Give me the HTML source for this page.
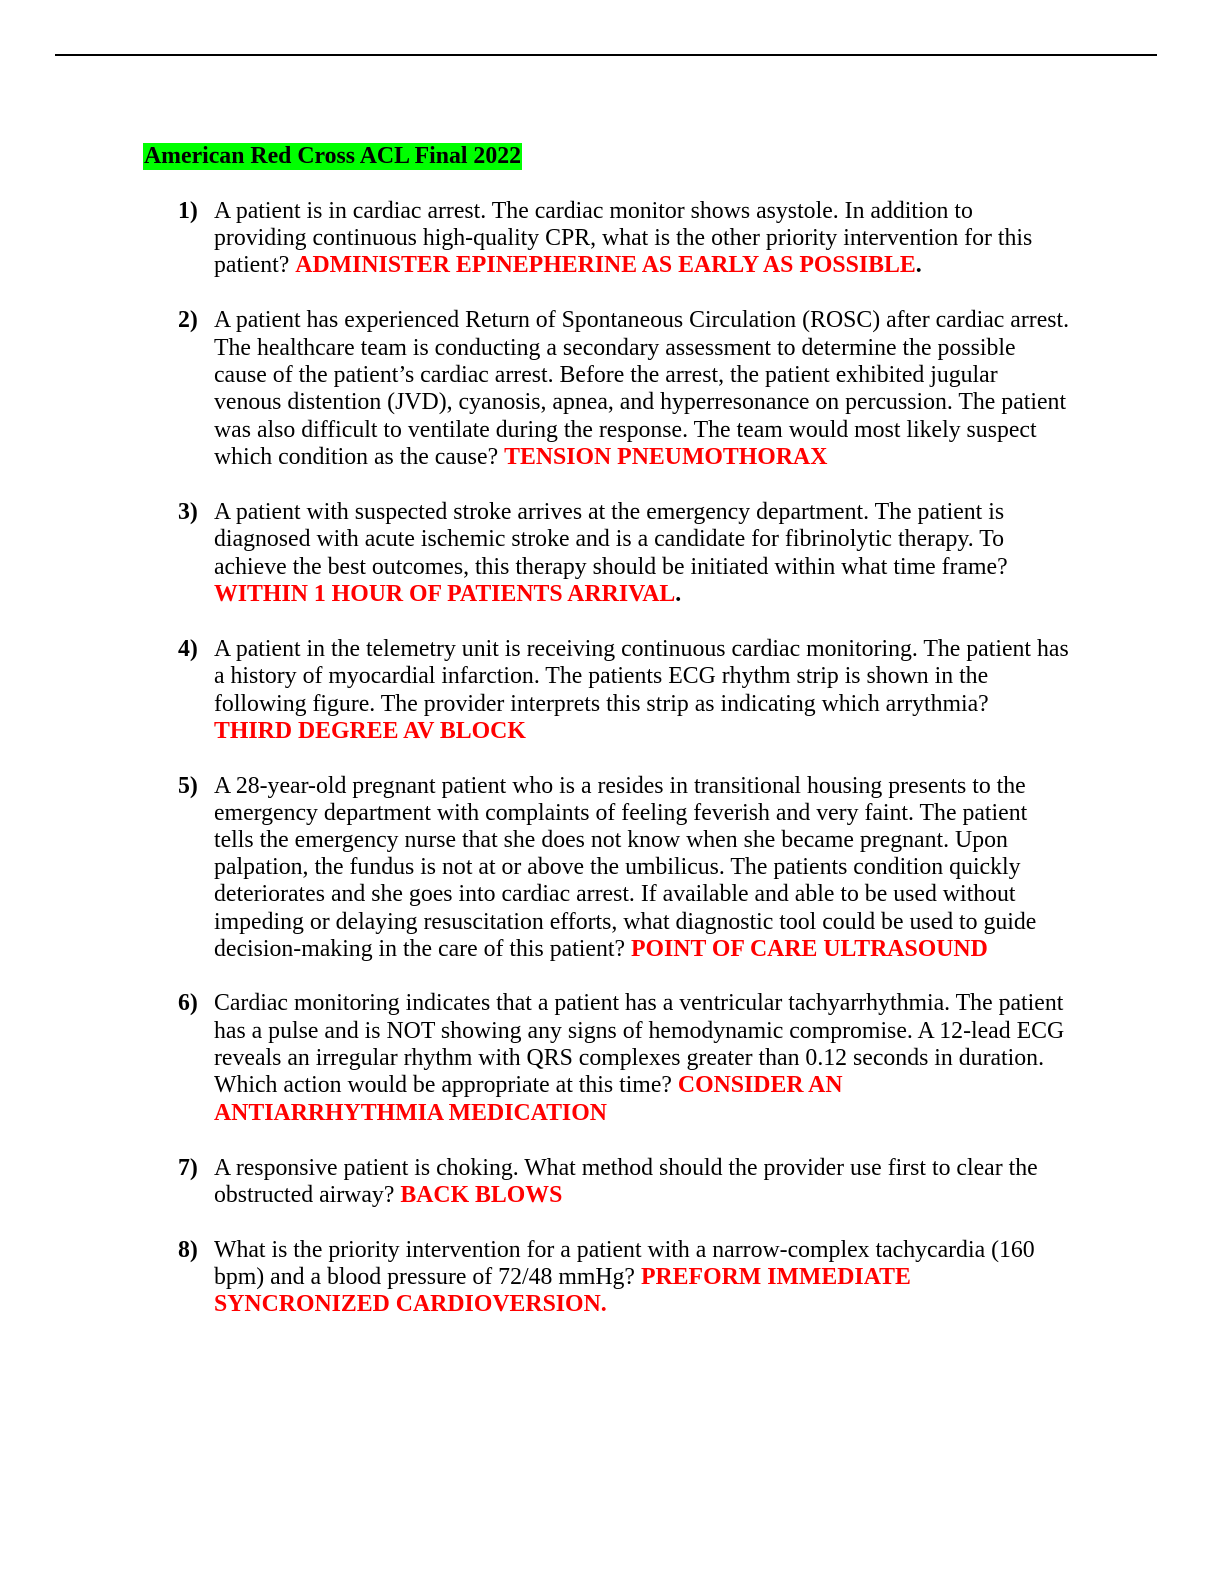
<!DOCTYPE html>
<html><head><meta charset="utf-8"><style>
body{margin:0;width:1224px;height:1584px;background:#fff;position:relative;font-family:"Liberation Serif",serif;font-size:23.8px;color:#000;overflow:hidden}
.hr{position:absolute;left:55px;top:54px;width:1102px;height:2px;background:#000}
.l{position:absolute;left:214px;line-height:27px;white-space:nowrap}
.n{position:absolute;left:178px;line-height:27px;font-weight:bold}
.r{color:#ff0000;font-weight:bold}
.t{position:absolute;left:143px;top:143px;height:27px;line-height:27px;background:#00ff00;font-weight:bold;padding:0 1px}
</style></head><body>
<div class="hr"></div>
<div class="t">American Red Cross ACL Final 2022</div>

<div class="n" style="top:198px">1)</div>
<div class="l" style="top:198px">A patient is in cardiac arrest. The cardiac monitor shows asystole. In addition to</div>
<div class="l" style="top:225px">providing continuous high-quality CPR, what is the other priority intervention for this</div>
<div class="l" style="top:252px">patient? <span class="r">ADMINISTER EPINEPHERINE AS EARLY AS POSSIBLE</span><b>.</b></div>

<div class="n" style="top:307px">2)</div>
<div class="l" style="top:307px">A patient has experienced Return of Spontaneous Circulation (ROSC) after cardiac arrest.</div>
<div class="l" style="top:335px">The healthcare team is conducting a secondary assessment to determine the possible</div>
<div class="l" style="top:362px">cause of the patient’s cardiac arrest. Before the arrest, the patient exhibited jugular</div>
<div class="l" style="top:389px">venous distention (JVD), cyanosis, apnea, and hyperresonance on percussion. The patient</div>
<div class="l" style="top:417px">was also difficult to ventilate during the response. The team would most likely suspect</div>
<div class="l" style="top:444px">which condition as the cause? <span class="r">TENSION PNEUMOTHORAX</span></div>

<div class="n" style="top:499px">3)</div>
<div class="l" style="top:499px">A patient with suspected stroke arrives at the emergency department. The patient is</div>
<div class="l" style="top:526px">diagnosed with acute ischemic stroke and is a candidate for fibrinolytic therapy. To</div>
<div class="l" style="top:554px">achieve the best outcomes, this therapy should be initiated within what time frame?</div>
<div class="l" style="top:581px"><span class="r">WITHIN 1 HOUR OF PATIENTS ARRIVAL</span><b>.</b></div>

<div class="n" style="top:636px">4)</div>
<div class="l" style="top:636px">A patient in the telemetry unit is receiving continuous cardiac monitoring. The patient has</div>
<div class="l" style="top:663px">a history of myocardial infarction. The patients ECG rhythm strip is shown in the</div>
<div class="l" style="top:691px">following figure. The provider interprets this strip as indicating which arrythmia?</div>
<div class="l" style="top:718px"><span class="r">THIRD DEGREE AV BLOCK</span></div>

<div class="n" style="top:773px">5)</div>
<div class="l" style="top:773px">A 28-year-old pregnant patient who is a resides in transitional housing presents to the</div>
<div class="l" style="top:800px">emergency department with complaints of feeling feverish and very faint. The patient</div>
<div class="l" style="top:827px">tells the emergency nurse that she does not know when she became pregnant. Upon</div>
<div class="l" style="top:854px">palpation, the fundus is not at or above the umbilicus. The patients condition quickly</div>
<div class="l" style="top:881px">deteriorates and she goes into cardiac arrest. If available and able to be used without</div>
<div class="l" style="top:909px">impeding or delaying resuscitation efforts, what diagnostic tool could be used to guide</div>
<div class="l" style="top:936px">decision-making in the care of this patient? <span class="r">POINT OF CARE ULTRASOUND</span></div>

<div class="n" style="top:990px">6)</div>
<div class="l" style="top:990px">Cardiac monitoring indicates that a patient has a ventricular tachyarrhythmia. The patient</div>
<div class="l" style="top:1018px">has a pulse and is NOT showing any signs of hemodynamic compromise. A 12-lead ECG</div>
<div class="l" style="top:1045px">reveals an irregular rhythm with QRS complexes greater than 0.12 seconds in duration.</div>
<div class="l" style="top:1072px">Which action would be appropriate at this time? <span class="r">CONSIDER AN</span></div>
<div class="l" style="top:1100px"><span class="r">ANTIARRHYTHMIA MEDICATION</span></div>

<div class="n" style="top:1155px">7)</div>
<div class="l" style="top:1155px">A responsive patient is choking. What method should the provider use first to clear the</div>
<div class="l" style="top:1182px">obstructed airway? <span class="r">BACK BLOWS</span></div>

<div class="n" style="top:1237px">8)</div>
<div class="l" style="top:1237px">What is the priority intervention for a patient with a narrow-complex tachycardia (160</div>
<div class="l" style="top:1264px">bpm) and a blood pressure of 72/48 mmHg? <span class="r">PREFORM IMMEDIATE</span></div>
<div class="l" style="top:1291px"><span class="r">SYNCRONIZED CARDIOVERSION.</span></div>
</body></html>
